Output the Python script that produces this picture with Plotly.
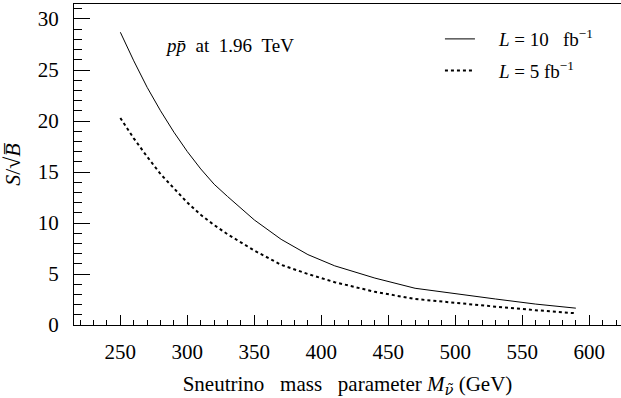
import plotly.graph_objects as go

# Sneutrino mass parameter (GeV)
mass = [250, 260, 270, 280, 290, 300, 310, 320, 330, 340, 350, 370, 390, 410, 440, 470, 500, 530, 560, 590]
# S/sqrt(B) for L = 10 fb^-1
sig_10 = [28.7, 25.9, 23.3, 21.0, 18.9, 17.0, 15.3, 13.8, 12.6, 11.4, 10.3, 8.4, 6.9, 5.8, 4.6, 3.6, 3.05, 2.55, 2.05, 1.65]
# S/sqrt(B) for L = 5 fb^-1
sig_5 = [20.3, 18.3, 16.5, 14.8, 13.4, 12.0, 10.8, 9.8, 8.9, 8.1, 7.3, 5.9, 5.0, 4.2, 3.25, 2.55, 2.15, 1.8, 1.45, 1.15]

x_ticks = [250, 300, 350, 400, 450, 500, 550, 600]
y_ticks = [0, 5, 10, 15, 20, 25, 30]

FONT = "Liberation Serif, serif"

fig = go.Figure()
fig.add_trace(go.Scatter(
    x=mass, y=sig_10, mode="lines",
    line=dict(color="black", width=1),
    name="\u2002\u2002<i>L</i> = 10 \u2002fb<sup>\u22121</sup>",
    legendgroup="a",
))
fig.add_trace(go.Scatter(
    x=mass, y=sig_5, mode="lines",
    line=dict(color="black", width=2, dash="3px,3px"),
    name="\u2002\u2002<i>L</i> = 5 fb<sup>\u22121</sup>",
    legendgroup="b",
))

fig.update_layout(
    width=621, height=398,
    margin=dict(l=74, r=0, t=4, b=73),
    paper_bgcolor="white", plot_bgcolor="white",
    font=dict(family=FONT, color="black", size=20),
    showlegend=True,
    legend=dict(
        x=0.669, y=0.95, xanchor="left", yanchor="top",
        bgcolor="rgba(0,0,0,0)", font=dict(size=19, family=FONT),
        tracegroupgap=4, itemwidth=30,
    ),
    xaxis=dict(
        range=[215.4, 623.7], tickvals=x_ticks, ticktext=[str(v) for v in x_ticks],
        ticks="inside", ticklen=10, tickwidth=1.2, tickcolor="black",
        showline=True, linecolor="black", linewidth=1.3, mirror=True,
        showgrid=False, zeroline=False, automargin=False,
        minor=dict(dtick=10, tick0=0, ticks="inside", ticklen=5, tickwidth=1, tickcolor="black"),
        tickfont=dict(size=21, family=FONT),
        ticklabelstandoff=8,
        title=dict(text="Sneutrino\u2002 mass\u2002 parameter <i>M</i>"
                        "<sub><span style='font-family:DejaVu Serif;font-style:italic'>\u03bd\u0303</span></sub> (GeV)",
                   font=dict(size=21, family=FONT), standoff=14),
    ),
    yaxis=dict(
        range=[0, 31.47], tickvals=y_ticks, ticktext=[str(v) for v in y_ticks],
        ticks="inside", ticklen=16, tickwidth=1.2, tickcolor="black",
        showline=True, linecolor="black", linewidth=1.3,
        showgrid=False, zeroline=False, automargin=False,
        minor=dict(dtick=1, tick0=0, ticks="inside", ticklen=8, tickwidth=1, tickcolor="black"),
        tickfont=dict(size=21, family=FONT),
        ticklabelstandoff=10,
        title=dict(text="<i>S</i>/\u221a<i>B\u0305</i>", font=dict(size=22, family=FONT), standoff=10),
    ),
    annotations=[dict(
        xref="paper", yref="paper", x=0.163, y=0.872, xanchor="left", yanchor="middle",
        text="<i>p</i><i>p\u0304</i>\u2002at\u20021.96\u2002TeV", showarrow=False,
        font=dict(size=19, family=FONT, color="black"),
    )],
)

fig.write_html("out.html", config={"displayModeBar": False},
               post_script="document.body.style.margin='0px';")
